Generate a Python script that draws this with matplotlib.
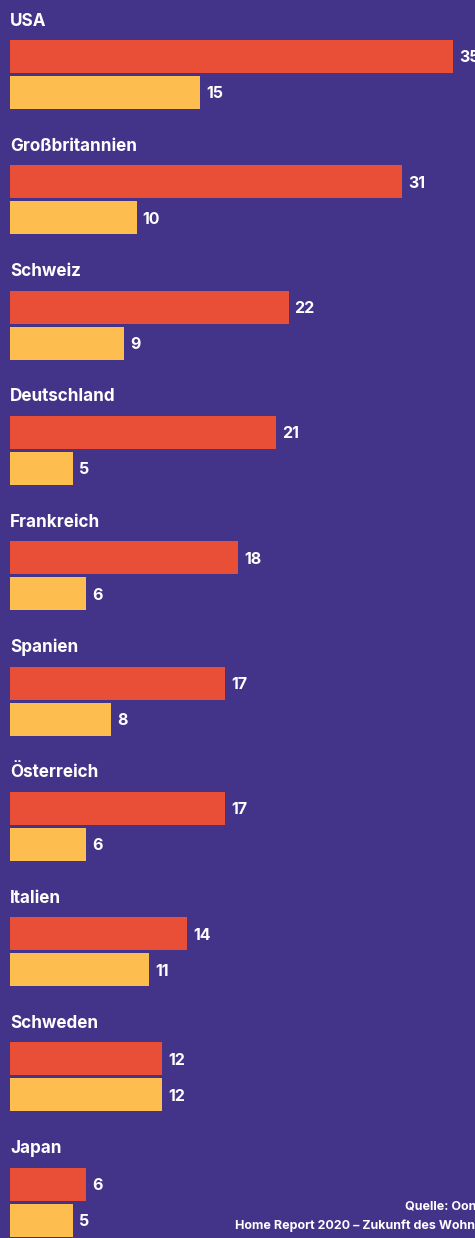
import matplotlib
matplotlib.use("Agg")
import matplotlib.pyplot as plt
import numpy as np

# Werte
laender = ["USA", "Großbritannien", "Schweiz", "Deutschland", "Frankreich",
           "Spanien", "Österreich", "Italien", "Schweden", "Japan"]
rot = [35, 31, 22, 21, 18, 17, 17, 14, 12, 6]
gelb = [15, 10, 9, 5, 6, 8, 6, 11, 12, 5]

bg = "#433489"
c_rot = "#E84F36"
c_gelb = "#FDBE4F"

plt.rcParams['font.family'] = ['Inter', 'DejaVu Sans']

fig = plt.figure(figsize=(4.75, 12.38), dpi=100)
fig.patch.set_facecolor(bg)
ax = fig.add_axes([0, 0, 1, 1])
ax.set_facecolor(bg)

pitch = 125.3  # px pro Gruppe
px = 475 / (36.73 + 0.79)
ax.set_xlim(-10 / px, (475 - 10) / px)
ax.set_ylim(1238 / pitch, 0)
ax.axis("off")

idx = np.arange(len(laender))
h = 33 / pitch
y_rot = idx + 56.5 / pitch
y_gelb = idx + 92.5 / pitch

ax.barh(y_rot, rot, height=h, color=c_rot)
ax.barh(y_gelb, gelb, height=h, color=c_gelb)

dx = 6 / px
for i, name in enumerate(laender):
    ax.text(0.15 / px, idx[i] + 21 / pitch, name, color="white", fontsize=12.3,
            fontweight="bold", va="center", ha="left")
    ax.text(rot[i] + dx, y_rot[i] + 1.5 / pitch, str(rot[i]), color="white",
            fontsize=11.5, fontweight="bold", va="center", ha="left")
    ax.text(gelb[i] + dx, y_gelb[i] + 1.5 / pitch, str(gelb[i]), color="white",
            fontsize=11.5, fontweight="bold", va="center", ha="left")

fig.text(405 / 475, 1 - 1206 / 1238, "Quelle: Oona", color="white", fontsize=9,
         fontweight="bold", ha="left", va="center")
fig.text(235 / 475, 1 - 1226 / 1238, "Home Report 2020 – Zukunft des Wohnens",
         color="white", fontsize=9, fontweight="bold", ha="left", va="center")

fig.savefig("out.png", dpi=100, facecolor=bg)
